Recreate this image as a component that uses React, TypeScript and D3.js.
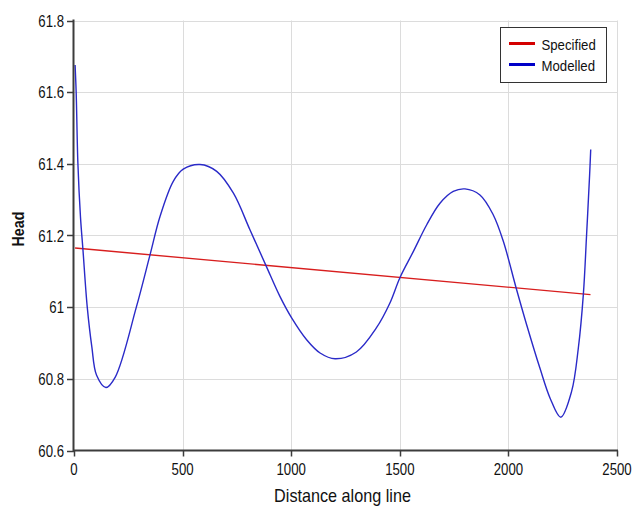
import React from "react";
import * as d3 from "d3";

const modelledX = [5, 10, 18, 30, 41, 61, 82, 104, 147, 190, 287, 350, 396, 457, 503, 580, 657, 734, 810, 884, 948, 1002, 1071, 1133, 1202, 1300, 1392, 1454, 1501, 1562, 1624, 1685, 1746, 1800, 1869, 1930, 1977, 2035, 2084, 2145, 2192, 2241, 2291, 2322, 2345, 2360, 2374, 2379];
const modelledY = [61.676, 61.6, 61.4, 61.25, 61.162, 61.0, 60.89, 60.81, 60.776, 60.805, 61.0, 61.146, 61.253, 61.351, 61.385, 61.398, 61.379, 61.318, 61.216, 61.116, 61.03, 60.97, 60.909, 60.872, 60.856, 60.875, 60.942, 61.011, 61.083, 61.155, 61.23, 61.29, 61.323, 61.33, 61.313, 61.258, 61.183, 61.055, 60.951, 60.83, 60.746, 60.693, 60.765, 60.886, 61.035, 61.202, 61.37, 61.44];

const specifiedX = [5, 2378];
const specifiedY = [61.165, 61.035];

const xTicks = [0, 500, 1000, 1500, 2000, 2500];
const xTickLabels = ["0", "500", "1000", "1500", "2000", "2500"];
const yTicks = [60.6, 60.8, 61.0, 61.2, 61.4, 61.6, 61.8];
const yTickLabels = ["60.6", "60.8", "61", "61.2", "61.4", "61.6", "61.8"];

const seriesNames = ["Specified", "Modelled"];
const seriesColors = ["#d81e1e", "#2a2ac8"];
const legendColors = ["#d40000", "#0000c8"];

const FONT = "'Liberation Sans', Arial, sans-serif";

export default function App() {
  const W = 632, H = 509;
  const left = 74, right = 617, top = 20.5, bottom = 450.5;
  const x = d3.scaleLinear().domain([0, 2500]).range([left, right]);
  const y = d3.scaleLinear().domain([60.6, 61.8]).range([bottom, top]);

  const line = d3.line<[number, number]>()
    .x((d) => x(d[0]))
    .y((d) => y(d[1]))
    .curve(d3.curveCatmullRom.alpha(0.5));

  const modelled = modelledX.map((v, i) => [v, modelledY[i]] as [number, number]);
  const specified = specifiedX.map((v, i) => [v, specifiedY[i]] as [number, number]);

  return (
    <svg width={W} height={H} style={{ position: "absolute", left: 0, top: 0, background: "#fff" }}>
      <rect x={0} y={0} width={W} height={H} fill="#fff" />
      {xTicks.slice(1).map((t) => (
        <line key={"gx" + t} x1={Math.round(x(t)) + 0.5} x2={Math.round(x(t)) + 0.5} y1={top} y2={bottom} stroke="#dcdcdc" strokeWidth={1} />
      ))}
      {yTicks.slice(1).map((t) => (
        <line key={"gy" + t} x1={left} x2={right} y1={Math.round(y(t)) + 0.5} y2={Math.round(y(t)) + 0.5} stroke="#dcdcdc" strokeWidth={1} />
      ))}
      <path d={line(specified) || ""} fill="none" stroke={seriesColors[0]} strokeWidth={1.4} />
      <path d={line(modelled) || ""} fill="none" stroke={seriesColors[1]} strokeWidth={1.4} />
      <line x1={left - 0.5} x2={left - 0.5} y1={top - 1} y2={bottom + 1} stroke="#3c3c3c" strokeWidth={2} />
      <line x1={left - 1} x2={right + 1} y1={bottom} y2={bottom} stroke="#3c3c3c" strokeWidth={2} />
      {yTicks.map((t, i) => (
        <g key={"yt" + t}>
          <line x1={left - 7} x2={left} y1={Math.round(y(t)) + 0.5} y2={Math.round(y(t)) + 0.5} stroke="#3c3c3c" strokeWidth={1.5} />
          <g transform={`translate(${left - 10},${y(t) + 6}) scale(0.8,1)`}>
            <text textAnchor="end" fontFamily={FONT} fontSize={16.5} fill="#111">{yTickLabels[i]}</text>
          </g>
        </g>
      ))}
      {xTicks.map((t, i) => (
        <g key={"xt" + t}>
          <line x1={Math.round(x(t)) + 0.5} x2={Math.round(x(t)) + 0.5} y1={bottom} y2={bottom + 6} stroke="#3c3c3c" strokeWidth={1.5} />
          <g transform={`translate(${x(t)},${bottom + 24.5}) scale(0.8,1)`}>
            <text textAnchor="middle" fontFamily={FONT} fontSize={16.5} fill="#111">{xTickLabels[i]}</text>
          </g>
        </g>
      ))}
      <g transform={`translate(${(left + right) / 2 - 3},${502}) scale(0.9,1)`}>
        <text textAnchor="middle" fontFamily={FONT} fontSize={18} fill="#111">Distance along line</text>
      </g>
      <g transform={`translate(${24},${229}) rotate(-90) scale(0.84,1)`}>
        <text textAnchor="middle" fontFamily={FONT} fontSize={17} fontWeight="bold" fill="#111">Head</text>
      </g>
      <rect x={500.5} y={27.5} width={106} height={55} fill="#fff" stroke="#333" strokeWidth={1} />
      {seriesNames.map((n, i) => (
        <g key={n}>
          <line x1={509} x2={535} y1={43.5 + i * 21} y2={43.5 + i * 21} stroke={legendColors[i]} strokeWidth={3} />
          <g transform={`translate(${541.5},${49.5 + i * 21}) scale(0.88,1)`}>
            <text fontFamily={FONT} fontSize={15} fill="#111">{n}</text>
          </g>
        </g>
      ))}
    </svg>
  );
}
